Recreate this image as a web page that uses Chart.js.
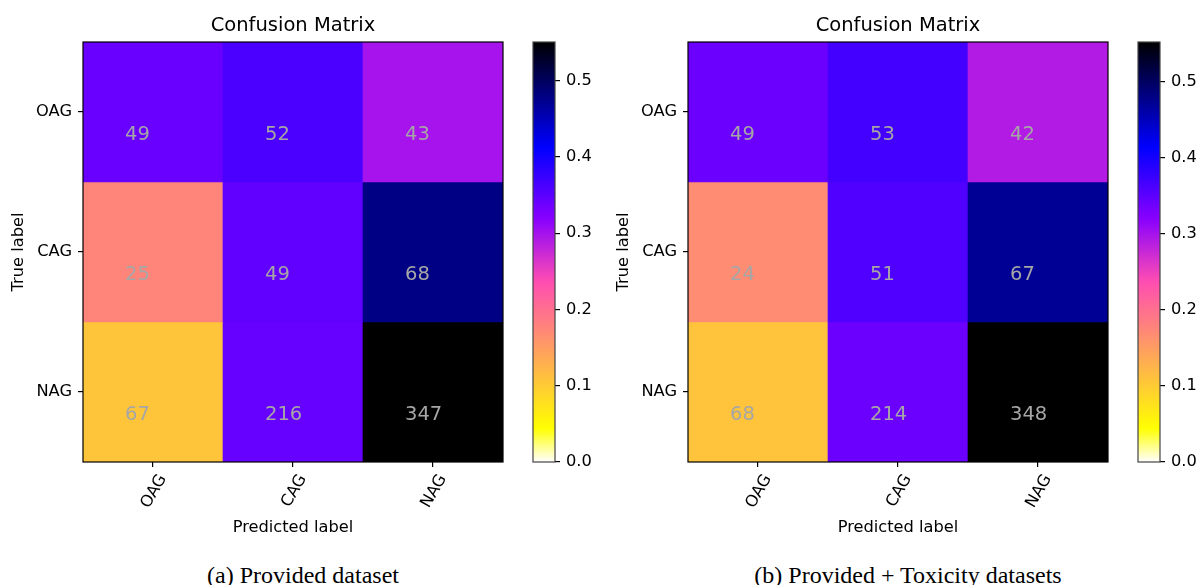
<!DOCTYPE html>
<html>
<head>
<meta charset="utf-8">
<script src="https://cdn.jsdelivr.net/npm/chart.js@4.4.1/dist/chart.umd.min.js"></script>
<style>
  html, body { margin: 0; padding: 0; background: #fff; overflow: hidden; }
  #page { position: relative; width: 1196px; height: 585px; overflow: hidden; }
  #page canvas { position: absolute; top: 0; }
  .caption {
    position: absolute;
    top: 563px;
    width: 606px;
    text-align: center;
    font: 24px/24px "Liberation Serif", "Times New Roman", serif;
    color: #000;
    white-space: nowrap;
  }
</style>
</head>
<body>
<div id="page"></div>
<script>
  // labels on both axes
  const predictedLabels = ["OAG", "CAG", "NAG"];
  const trueLabels = ["OAG", "CAG", "NAG"];

  // counts per row (true label), columns are predicted labels
  const providedCounts = [
    [49, 52, 43],
    [25, 49, 68],
    [67, 216, 347],
  ];
  const toxicityCounts = [
    [49, 53, 42],
    [24, 51, 67],
    [68, 214, 348],
  ];

  const colorbarTicks = [0, 0.1, 0.2, 0.3, 0.4, 0.5];
  const captions = ["(a) Provided dataset", "(b) Provided + Toxicity datasets"];

  const FONT = "DejaVu Sans";
  const TICK_SIZE = 16.25;
  const panelOffsets = [0, 605];

  // matplotlib gnuplot2_r
  function gnuplot2r(v) {
    const clip = (n) => Math.min(Math.max(n, 0), 1);
    const t = 1 - clip(v);
    const r = clip(t / 0.32 - 0.78125);
    const g = clip(2 * t - 0.84);
    let b;
    if (t < 0.25) b = 4 * t;
    else if (t < 0.92) b = -2 * t + 1.84;
    else b = t / 0.08 - 11.5;
    b = clip(b);
    return `rgb(${Math.round(r * 255)}, ${Math.round(g * 255)}, ${Math.round(b * 255)})`;
  }

  const framePlugin = (color, width) => ({
    id: "frame",
    afterDraw(chart) {
      const { ctx, chartArea: a } = chart;
      ctx.save();
      ctx.strokeStyle = color;
      ctx.lineWidth = width;
      ctx.strokeRect(a.left, a.top, a.right - a.left, a.bottom - a.top);
      ctx.restore();
    },
  });

  const cellTextPlugin = {
    id: "cellText",
    afterDatasetsDraw(chart) {
      const { ctx, scales: { x, y } } = chart;
      ctx.save();
      ctx.fillStyle = "#a6a6a6";
      ctx.font = `19.5px "${FONT}"`;
      ctx.textAlign = "left";
      ctx.textBaseline = "alphabetic";
      chart.data.datasets.forEach((ds, i) => {
        ds.counts.forEach((c, j) => {
          ctx.fillText(String(c), x.getPixelForValue(j - 0.2), y.getPixelForValue(i + 0.2));
        });
      });
      ctx.restore();
    },
  };

  function axisGrid() {
    return {
      offset: false,
      drawOnChartArea: false,
      drawTicks: true,
      tickLength: 5,
      color: "#000",
      lineWidth: 1.2,
    };
  }

  function makeCanvas(left, width, height) {
    const c = document.createElement("canvas");
    c.width = width;
    c.height = height;
    c.style.left = left + "px";
    c.style.width = width + "px";
    c.style.height = height + "px";
    document.getElementById("page").appendChild(c);
    return c;
  }

  function drawPanel(counts, offsetX, caption) {
    const rowSums = counts.map((row) => row.reduce((s, v) => s + v, 0));
    const norm = counts.map((row, i) => row.map((v) => v / rowSums[i]));
    const vmax = Math.max(...norm.flat());

    const heatCanvas = makeCanvas(offsetX, 520, 545);
    new Chart(heatCanvas, {
      type: "bar",
      data: {
        labels: predictedLabels,
        datasets: counts.map((row, i) => ({
          counts: row,
          data: row.map(() => [i - 0.5, i + 0.5]),
          backgroundColor: row.map((_, j) => gnuplot2r(norm[i][j] / vmax)),
          borderWidth: 0,
          grouped: false,
          categoryPercentage: 1,
          barPercentage: 1,
        })),
      },
      options: {
        responsive: false,
        animation: false,
        events: [],
        layout: { padding: { left: 0, top: 0, right: 17, bottom: 0 } },
        plugins: {
          legend: { display: false },
          tooltip: { enabled: false },
          title: {
            display: true,
            text: "Confusion Matrix",
            fullSize: false,
            color: "#000",
            font: { family: FONT, size: 19.5, weight: "normal" },
            padding: { top: 14, bottom: 4.6 },
          },
        },
        scales: {
          x: {
            type: "category",
            offset: true,
            grid: axisGrid(),
            border: { display: false },
            ticks: {
              color: "#000",
              font: { family: FONT, size: TICK_SIZE },
              minRotation: 60,
              maxRotation: 60,
              autoSkip: false,
              padding: 4,
              labelOffset: 10,
            },
            title: {
              display: true,
              text: "Predicted label",
              color: "#000",
              font: { family: FONT, size: TICK_SIZE },
              padding: { top: 0, bottom: 7.4 },
            },
            afterFit: (s) => { s.height = 83; },
          },
          y: {
            type: "linear",
            min: -0.5,
            max: 2.5,
            reverse: true,
            afterBuildTicks: (s) => { s.ticks = trueLabels.map((_, i) => ({ value: i })); },
            grid: axisGrid(),
            border: { display: false },
            ticks: {
              color: "#000",
              font: { family: FONT, size: TICK_SIZE },
              padding: 6,
              callback: (v) => trueLabels[v],
            },
            title: {
              display: true,
              text: "True label",
              color: "#000",
              font: { family: FONT, size: TICK_SIZE },
              padding: { top: 9.4, bottom: 0 },
            },
            afterFit: (s) => { s.width = 83; },
          },
        },
      },
      plugins: [cellTextPlugin, framePlugin("#000", 1.2)],
    });

    const barCanvas = makeCanvas(offsetX + 520, 80, 545);
    new Chart(barCanvas, {
      type: "bar",
      data: {
        labels: [""],
        datasets: [{
          data: [[0, vmax]],
          backgroundColor: (c) => {
            const { chart } = c;
            if (!chart.chartArea) return "#fff";
            const y = chart.scales.y;
            const g = chart.ctx.createLinearGradient(0, y.getPixelForValue(0), 0, y.getPixelForValue(vmax));
            for (let k = 0; k <= 64; k++) g.addColorStop(k / 64, gnuplot2r(k / 64));
            return g;
          },
          borderWidth: 0,
          categoryPercentage: 1,
          barPercentage: 1,
        }],
      },
      options: {
        responsive: false,
        animation: false,
        events: [],
        layout: { padding: { left: 13, top: 42, right: 0, bottom: 83 } },
        plugins: { legend: { display: false }, tooltip: { enabled: false } },
        scales: {
          x: { display: false },
          y: {
            position: "right",
            min: 0,
            max: vmax,
            afterBuildTicks: (s) => { s.ticks = colorbarTicks.map((v) => ({ value: v })); },
            grid: axisGrid(),
            border: { display: false },
            ticks: {
              color: "#000",
              font: { family: FONT, size: TICK_SIZE },
              padding: 6,
              callback: (v) => Number(v).toFixed(1),
            },
            afterFit: (s) => { s.width = 45; },
          },
        },
      },
      plugins: [framePlugin("#444", 1.2)],
    });

    const cap = document.createElement("div");
    cap.className = "caption";
    cap.style.left = offsetX + "px";
    cap.textContent = caption;
    document.getElementById("page").appendChild(cap);
  }

  drawPanel(providedCounts, panelOffsets[0], captions[0]);
  drawPanel(toxicityCounts, panelOffsets[1], captions[1]);
</script>
</body>
</html>
